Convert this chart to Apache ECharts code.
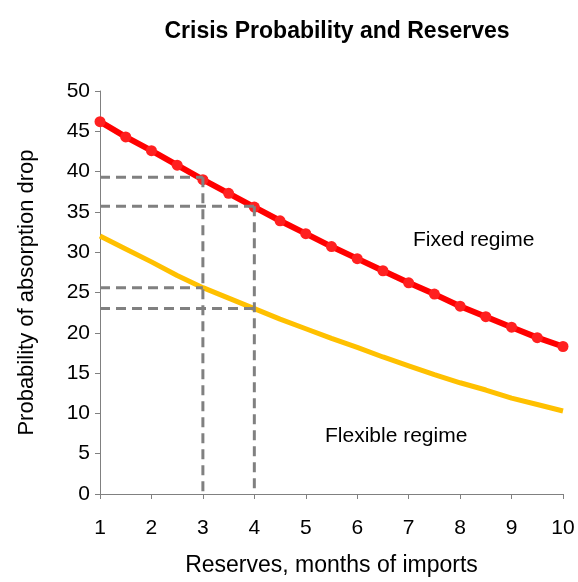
<!DOCTYPE html>
<html><head><meta charset="utf-8">
<script src="https://cdn.jsdelivr.net/npm/echarts@6/dist/echarts.min.js"></script>
<style>html,body{margin:0;padding:0;background:#fff}#c{width:578px;height:582px}</style>
</head><body><div id="c"></div>
<script>
const xs = [1,1.5,2,2.5,3,3.5,4,4.5,5,5.5,6,6.5,7,7.5,8,8.5,9,9.5,10];
const fixedVals = [46.2,44.3,42.6,40.8,39.0,37.3,35.6,33.9,32.3,30.7,29.2,27.7,26.2,24.8,23.3,22.0,20.7,19.4,18.3];
const flexVals = [32.0,30.4,28.8,27.1,25.6,24.3,23.0,21.7,20.5,19.3,18.2,17.0,15.9,14.8,13.8,12.9,11.9,11.1,10.3];
const hGuides = [[3,39.3],[4,35.7],[3,25.6],[4,23.0]];
const vGuides = [[3,39.3],[4,35.7]];
const font = 'Liberation Sans, Arial, sans-serif';
const dash = {color:'#808080',width:3,type:[10,6]};
const series = [
  {type:'line',data:xs.map((x,i)=>[x,flexVals[i]]),symbol:'none',lineStyle:{color:'#FFC000',width:5},z:2},
  {type:'line',data:xs.map((x,i)=>[x,fixedVals[i]]),symbol:'circle',symbolSize:11,itemStyle:{color:'#FF2020'},lineStyle:{color:'#FF0000',width:6},z:3}
];
hGuides.forEach(g=>series.push({type:'line',data:[[1,g[1]],[g[0],g[1]]],symbol:'none',lineStyle:dash,z:4}));
vGuides.forEach(g=>series.push({type:'line',data:[[g[0],g[1]],[g[0],0]],symbol:'none',lineStyle:dash,z:4}));
const chart = echarts.init(document.getElementById('c'));
chart.setOption({
  animation:false,
  title:{text:'Crisis Probability and Reserves',left:332,top:15,textAlign:'center',textStyle:{fontFamily:font,fontSize:23,fontWeight:'bold',color:'#000'}},
  grid:{left:100,right:15,top:91,bottom:88},
  xAxis:{type:'value',min:1,max:10,interval:1,name:'Reserves, months of imports',nameLocation:'middle',nameGap:60,
    nameTextStyle:{fontFamily:font,fontSize:23,color:'#000'},
    axisLine:{lineStyle:{color:'#808080'}},axisTick:{show:true,lineStyle:{color:'#808080'}},splitLine:{show:false},
    axisLabel:{fontFamily:font,fontSize:21,color:'#000',margin:24}},
  yAxis:{type:'value',min:0,max:50,interval:5,name:'Probability of absorption drop',nameLocation:'middle',nameGap:62,
    nameTextStyle:{fontFamily:font,fontSize:22,color:'#000'},
    axisLine:{show:true,lineStyle:{color:'#808080'}},axisTick:{show:true,lineStyle:{color:'#808080'}},splitLine:{show:false},
    axisLabel:{fontFamily:font,fontSize:21,color:'#000',margin:10}},
  graphic:[
    {type:'text',left:413,top:230,style:{text:'Fixed regime',font:'21px '+font,fill:'#000'}},
    {type:'text',left:325,top:426,style:{text:'Flexible regime',font:'21px '+font,fill:'#000'}}
  ],
  series
});
</script></body></html>
